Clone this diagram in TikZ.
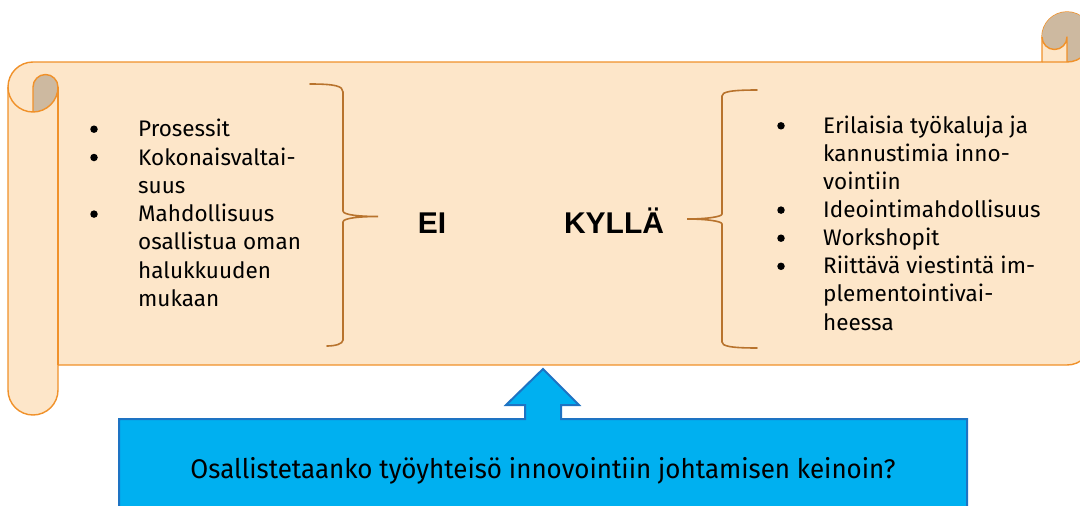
\documentclass[tikz,border=0pt]{standalone}
\usepackage{fontspec}
\usepackage{graphicx}
\setmainfont{Fira Sans}
\newfontfamily\boldfont{Liberation Sans}
\definecolor{peach}{HTML}{FDE6C9}
\definecolor{scrollline}{HTML}{F0912A}
\definecolor{scrolldark}{HTML}{CDB9A0}
\definecolor{bracecol}{HTML}{B8732D}
\definecolor{calloutfill}{HTML}{00B0F0}
\definecolor{calloutline}{HTML}{1E73C3}
\tikzset{
  scrollstroke/.style={draw=scrollline, line width=1.4pt, line join=round},
  bracestroke/.style={draw=bracecol, line width=1.6pt, line cap=round},
  itemtext/.style={anchor=base west, inner sep=0pt, font=\fontsize{22.5}{27}\selectfont, text=black},
  bulletdot/.style={circle, fill=black, inner sep=0pt, minimum size=7.5pt},
  bigword/.style={anchor=base, inner sep=0pt, font=\boldfont\bfseries\fontsize{30}{32}\selectfont, text=black}
}
\begin{document}
\begin{tikzpicture}[x=1pt, y=-1pt]
\useasboundingbox (0,0) rectangle (1080,506);
\clip (0,0) rectangle (1080,506);
% scroll body
\path[fill=peach, scrollstroke] (8,87) arc[start angle=180, delta angle=90, radius=25]
  -- (1042,62) -- (1042,37) arc[start angle=180, delta angle=180, radius=25]
  -- (1092,340) arc[start angle=0, delta angle=90, radius=25]
  -- (58,365) -- (58,390) arc[start angle=0, delta angle=180, radius=25] -- cycle;
% dark curls
\fill[scrolldark] (33,112) arc[start angle=90, delta angle=-90, radius=25]
  arc[start angle=0, delta angle=-180, radius=12.5] -- cycle;
\fill[scrolldark] (1067,62) arc[start angle=90, delta angle=-270, radius=25]
  arc[start angle=180, delta angle=-180, radius=12.5] -- cycle;
% curl lines
\path[scrollstroke] (33,112) -- (33,87) arc[start angle=180, delta angle=180, radius=12.5]
  arc[start angle=0, delta angle=180, radius=25];
\path[scrollstroke] (58,87) -- (58,365);
\path[scrollstroke] (1042,62) -- (1067,62) arc[start angle=90, delta angle=-90, radius=25];
\path[scrollstroke] (1067,62) -- (1067,37) arc[start angle=0, delta angle=180, radius=12.5];
% braces
\path[bracestroke] (310,84) .. controls (335,84) and (343,86) .. (343,92) -- (343,211)
  .. controls (343,215) and (360,216.5) .. (378,216.5)
  .. controls (360,216.5) and (343,218) .. (343,222) -- (343,340)
  .. controls (343,344) and (335,346) .. (327,346);
\path[bracestroke] (757,90) .. controls (730,90) and (722,92) .. (722,96) -- (722,214)
  .. controls (722,217) and (705,219) .. (687,219)
  .. controls (705,219) and (722,221) .. (722,224) -- (722,342)
  .. controls (722,346) and (730,348) .. (757,348);
% left list
\foreach \t [count=\i from 0] in {Prosessit, Kokonaisvaltai-, suus, Mahdollisuus, osallistua oman, halukkuuden, mukaan}
  \node[itemtext] (L\i) at (138,{136.7+28.3*\i}) {\t};
\foreach \i in {0,1,3}
  \node[bulletdot] (LB\i) at (94,{136.7+28.3*\i-7.5}) {};
% right list
\foreach \t [count=\i from 0] in {Erilaisia työkaluja ja, kannustimia inno-, vointiin, Ideointimahdollisuus, Workshopit, Riittävä viestintä im-, plementointivai-, heessa}
  \node[itemtext] (R\i) at (823,{133.3+28.1*\i}) {\t};
\foreach \i in {0,3,4,5}
  \node[bulletdot] (RB\i) at (781,{133.3+28.1*\i-7.5}) {};
% EI / KYLLA
\node[bigword] (ei) at (432,233) {EI};
\node[bigword] (kylla) at (614,233) {KYLLÄ};
% callout
\path[fill=calloutfill, draw=calloutline, line width=2pt, line join=miter]
  (119,419) -- (525,419) -- (525,405) -- (506,405) -- (543,369) -- (579,405) -- (561,405)
  -- (561,419) -- (967,419) -- (967,520) -- (119,520) -- cycle;
\node[anchor=base, inner sep=0pt, text=black] (question) at (543,478)
  {\resizebox{705pt}{\height}{\fontsize{27}{30}\selectfont Osallistetaanko työyhteisö innovointiin johtamisen keinoin?}};
\end{tikzpicture}
\end{document}
